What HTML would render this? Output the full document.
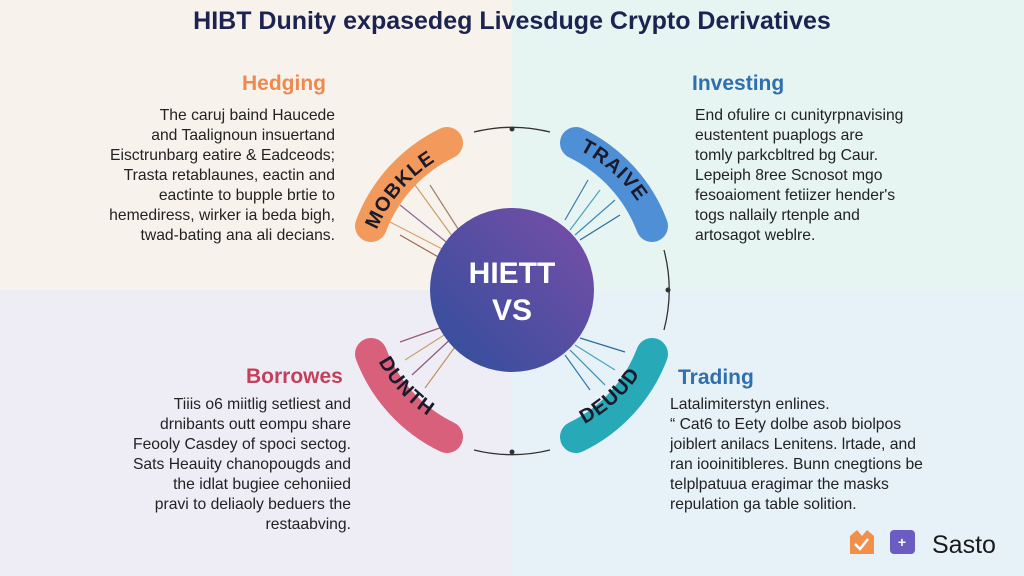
<!DOCTYPE html>
<html><head><meta charset="utf-8"><style>
body{margin:0;width:1024px;height:576px;overflow:hidden;font-family:"Liberation Sans",sans-serif;position:relative}
.q{position:absolute}
.t{position:absolute;font-size:15.7px;line-height:20px;color:#222}
h2{position:absolute;margin:0;font-size:21px;font-weight:bold}
</style></head><body>
<div class="q" style="left:0;top:0;width:512px;height:290px;background:#f8f2ec"></div>
<div class="q" style="left:512px;top:0;width:512px;height:290px;background:#e6f4f2"></div>
<div class="q" style="left:0;top:290px;width:512px;height:286px;background:#eeedf6"></div>
<div class="q" style="left:512px;top:290px;width:512px;height:286px;background:#e6f1f8"></div>
<div style="position:absolute;top:7px;left:0;width:1024px;text-align:center;font-size:25px;font-weight:bold;color:#1d2350">HIBT Dunity expasedeg Livesduge Crypto Derivatives</div>
<h2 style="left:242px;top:72px;color:#ee8a4e">Hedging</h2>
<h2 style="left:692px;top:72px;color:#2f6fae">Investing</h2>
<h2 style="left:246px;top:365px;color:#c43f5a">Borrowes</h2>
<h2 style="left:678px;top:366px;color:#2f6fae">Trading</h2>
<div class="t" style="right:689px;top:106px;text-align:right">The caruj baind Haucede<br>and Taalignoun insuertand<br>Eisctrunbarg eatire &amp; Eadceods;<br>Trasta retablaunes, eactin and<br>eactinte to bupple brtie to<br>hemediress, wirker ia beda bigh,<br>twad-bating ana ali decians.</div>
<div class="t" style="left:695px;top:106px">End ofulire cı cunityrpnavising<br>eustentent puaplogs are<br>tomly parkcbltred bg Caur.<br>Lepeiph 8ree Scnosot mgo<br>fesoaioment fetiizer hender's<br>togs nallaily rtenple and<br>artosagot weblre.</div>
<div class="t" style="right:673px;top:395px;text-align:right">Tiiis o6 miitlig setliest and<br>drnibants outt eompu share<br>Feooly Casdey of spoci sectog.<br>Sats Heauity chanopougds and<br>the idlat bugiee cehoniied<br>pravi to deliaoly beduers the<br>restaabving.</div>
<div class="t" style="left:670px;top:395px">Latalimiterstyn enlines.<br>“ Cat6 to Eety dolbe asob biolpos<br>joiblert anilacs Lenitens. lrtade, and<br>ran iooinitibleres. Bunn cnegtions be<br>telplpatuua eragimar the masks<br>repulation ga table solition.</div>
<svg width="1024" height="576" style="position:absolute;left:0;top:0">
<defs><linearGradient id="g" x1="0" y1="1" x2="1" y2="0"><stop offset="0" stop-color="#2f4f9c"/><stop offset="1" stop-color="#7a4da8"/></linearGradient>
<path id="a1" d="M373,240 A150,150 0 0 1 462,148"/>
<path id="a2" d="M570,146 A150,150 0 0 1 655,238"/>
<path id="a3" d="M372,348 A150,150 0 0 0 460,432"/>
<path id="a4" d="M576,428 A150,150 0 0 0 655,345"/>
</defs>
<g fill="none" stroke="#333" stroke-width="1.3">
<path d="M474,132 A158,158 0 0 1 550,132"/>
<path d="M664,250 A158,158 0 0 1 664,330"/>
<path d="M474,450 A158,158 0 0 0 550,450"/>
</g>
<circle cx="512" cy="129" r="2.5" fill="#333"/><circle cx="668" cy="290" r="2.5" fill="#333"/><circle cx="512" cy="452" r="2.5" fill="#333"/>
<g stroke-linecap="round" fill="none" stroke-width="32">
<path d="M371,226 A152,152 0 0 1 447,143" stroke="#f19a5c"/>
<path d="M576,143 A152,152 0 0 1 652,226" stroke="#4f8fd6"/>
<path d="M371,354 A152,152 0 0 0 447,437" stroke="#d9607a"/>
<path d="M576,437 A152,152 0 0 0 652,354" stroke="#27a9b8"/>
</g>
<g font-weight="bold" font-size="20" fill="#1a1a2a" letter-spacing="1">
<text><textPath href="#a1" startOffset="8%">MOBKLE</textPath></text>
<text><textPath href="#a2" startOffset="8%">TRAIVE</textPath></text>
<text><textPath href="#a3" startOffset="12%">DUNTH</textPath></text>
<text><textPath href="#a4" startOffset="8%">DEUUD</textPath></text>
</g>
<g stroke-width="1.2">
<line x1="415" y1="185" x2="455" y2="240" stroke="#c9a06a"/><line x1="400" y1="205" x2="450" y2="245" stroke="#8a6a9a"/><line x1="390" y1="222" x2="448" y2="252" stroke="#d9a070"/><line x1="430" y1="185" x2="462" y2="235" stroke="#a08070"/><line x1="400" y1="235" x2="440" y2="258" stroke="#9a6a50"/>
<line x1="588" y1="180" x2="565" y2="220" stroke="#3a7ab0"/><line x1="600" y1="190" x2="570" y2="230" stroke="#4aa0c0"/><line x1="615" y1="200" x2="575" y2="235" stroke="#3a8ab8"/><line x1="620" y1="215" x2="580" y2="240" stroke="#2a6aa0"/>
<line x1="400" y1="342" x2="448" y2="325" stroke="#9a5a70"/><line x1="405" y1="360" x2="452" y2="330" stroke="#c9a06a"/><line x1="412" y1="375" x2="455" y2="335" stroke="#8a5a7a"/><line x1="425" y1="388" x2="460" y2="340" stroke="#c09060"/>
<line x1="580" y1="338" x2="625" y2="352" stroke="#2a6aa0"/><line x1="575" y1="345" x2="615" y2="370" stroke="#4aa0c0"/><line x1="570" y1="350" x2="605" y2="385" stroke="#3a8ab8"/><line x1="565" y1="355" x2="590" y2="390" stroke="#2a7ab0"/>
</g>
<circle cx="512" cy="290" r="82" fill="url(#g)"/>
<text x="512" y="283" text-anchor="middle" font-size="30" font-weight="bold" fill="#fff">HIETT</text>
<text x="512" y="320" text-anchor="middle" font-size="30" font-weight="bold" fill="#fff">VS</text>
<path d="M850,554 L850,536 L857,530 L862,536 L867,530 L874,536 L874,554Z" fill="#f0904a"/>
<path d="M855,544 L860,549 L868,539" stroke="#fff" stroke-width="2.5" fill="none"/>
<rect x="890" y="530" width="25" height="24" rx="4" fill="#6a5cc0"/>
<text x="902" y="547" text-anchor="middle" fill="#fff" font-size="14" font-weight="bold">+</text>
<text x="932" y="553" font-size="25" fill="#1a1a1a">Sasto</text>
</svg>
</body></html>
